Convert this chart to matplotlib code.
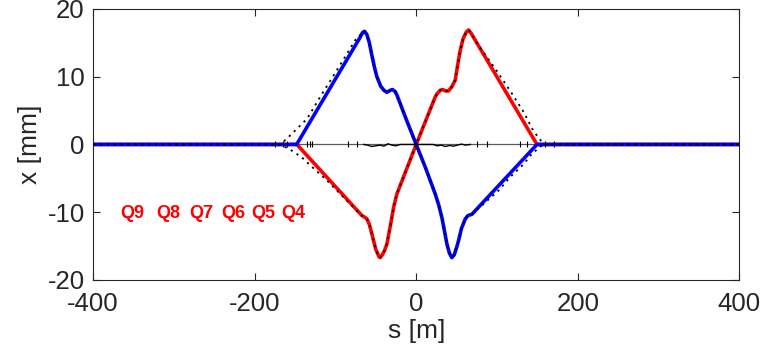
import matplotlib
matplotlib.use("Agg")
import matplotlib.pyplot as plt
import numpy as np

plt.rcParams['font.family'] = ['Liberation Sans', 'DejaVu Sans']
plt.rcParams['axes.unicode_minus'] = False

# blue orbit (s [m], x [mm])
blue_s = [-400, -148, -70, -66.5, -64, -61, -58, -55, -51.5, -48.7, -44, -40, -36.3,
          -32, -29.3, -26, -23.9, -12, 0, 12, 23.5, 28, 31.8, 35, 38, 41, 44, 47,
          50, 52.4, 56, 60.7, 64, 69, 149.5, 400]
blue_x = [0, 0, 15.7, 16.5, 16.7, 16.2, 15.0, 13.2, 11.3, 10.0, 8.6, 8.0, 7.7,
          8.0, 8.1, 7.8, 7.3, 3.6, 0, -3.6, -7.3, -9.0, -10.8, -12.8, -14.7, -16.0,
          -16.7, -16.3, -15.2, -14.2, -12.4, -11.0, -10.5, -10.3, 0, 0]

# red orbit
red_s = [-400, -147.7, -67.2, -63, -61, -58, -54.9, -50, -46, -44.6, -42, -39,
         -36.3, -32, -28, -23.9, 0, 23.5, 26, 29.7, 33, 36, 40, 44, 48.3, 51,
         54.5, 58, 62, 64.8, 68, 149.5, 400]
red_x = [0, 0, -10.5, -10.8, -11.0, -11.8, -13.2, -15.5, -16.6, -16.7, -16.3,
         -15.6, -14.7, -12.0, -9.3, -7.3, 0, 7.0, 7.5, 8.0, 8.1, 7.9, 7.9, 8.5,
         9.5, 11.5, 13.9, 15.6, 16.6, 16.9, 16.4, 0, 0]

# dotted (model) orbits, outer sections
dot_blue_left_s = [-400, -168, -158, -135, -119, -98, -75.5]
dot_blue_left_x = [0, 0, 1.1, 3.8, 7.0, 11.0, 15.4]
dot_blue_right_s = [102, 116.4, 133, 143, 157, 400]
dot_blue_right_x = [-6.8, -4.8, -2.9, -1.4, 0, 0]
dot_red_left_s = [-400, -170, -158, -141.6, -131, -110.6, -90, -73.4]
dot_red_left_x = [0, 0, -0.6, -1.9, -3.1, -5.3, -7.8, -9.8]
dot_red_right_s = [75, 100, 118, 133, 145, 158, 400]
dot_red_right_x = [15.0, 10.8, 7.6, 4.8, 2.0, 0, 0]

# small residual near zero
wig_s = [-65, -60, -55, -50, -45, -40, -35, -30, -25, -20, 21, 26, 31, 36, 41,
         46, 51, 56, 61, 67]
wig_x = [0, -0.1, -0.3, -0.2, -0.1, -0.25, 0.1, -0.1, -0.2, 0, 0, -0.2, -0.1,
         -0.3, -0.15, -0.25, -0.1, 0.05, -0.1, 0]

# element markers on the axis
mark_s = [-175, -165, -160, -135, -131, -129, -85, -73, 75, 88, 129, 137, 160, 170]

q_names = ['Q9', 'Q8', 'Q7', 'Q6', 'Q5', 'Q4']
q_s = [-351, -307, -265.6, -226, -189, -152]
q_y = -10.2

fig = plt.figure(figsize=(7.63, 3.58), dpi=100)
ax = fig.add_axes([0.122, 0.218, 0.847, 0.757])

ax.plot([-400, 400], [0, 0], color='0.35', lw=0.9, zorder=1)
ax.plot(red_s, red_x, color='r', lw=2.6, zorder=2)
ax.plot(blue_s, blue_x, color='b', lw=2.6, zorder=3)

# dotted curves = outer model points + measured inner part
def inner(s, x, lo, hi):
    s = np.array(s); x = np.array(x)
    m = (s >= lo) & (s <= hi)
    return list(s[m]), list(x[m])

bs, bx = inner(blue_s, blue_x, -66.5, 69)
rs, rx = inner(red_s, red_x, -67.2, 68)
dots = (0, (1.2, 2.6))
ax.plot(dot_blue_left_s + bs + dot_blue_right_s, dot_blue_left_x + bx + dot_blue_right_x,
        color='k', lw=1.3, ls=dots, zorder=4)
ax.plot(dot_red_left_s + rs + dot_red_right_s, dot_red_left_x + rx + dot_red_right_x,
        color='k', lw=1.3, ls=dots, zorder=4)

ax.plot(wig_s, wig_x, color='k', lw=1.0, zorder=4)
ax.plot(mark_s, [0] * len(mark_s), ls='none', marker='|', ms=4, color='k', mew=0.8, zorder=4)

for name, s in zip(q_names, q_s):
    ax.text(s, q_y, name, color='r', fontsize=13, fontweight='bold',
            ha='center', va='center')

ax.set_xlim(-400, 400)
ax.set_ylim(-20, 20)
ax.set_xticks([-400, -200, 0, 200, 400])
ax.set_yticks([-20, -10, 0, 10, 20])
ax.tick_params(direction='in', top=True, right=True, length=5, width=0.8,
               labelsize=18.5, colors='0.15')
ax.tick_params(axis='x', pad=9)
ax.tick_params(axis='y', pad=6)
for sp in ax.spines.values():
    sp.set_color('0.15')
    sp.set_linewidth(0.8)
ax.set_xlabel('s [m]', fontsize=19, color='0.15', labelpad=2)
ax.set_ylabel('x [mm]', fontsize=19, color='0.15', labelpad=4)

fig.savefig('out.png', dpi=100)
